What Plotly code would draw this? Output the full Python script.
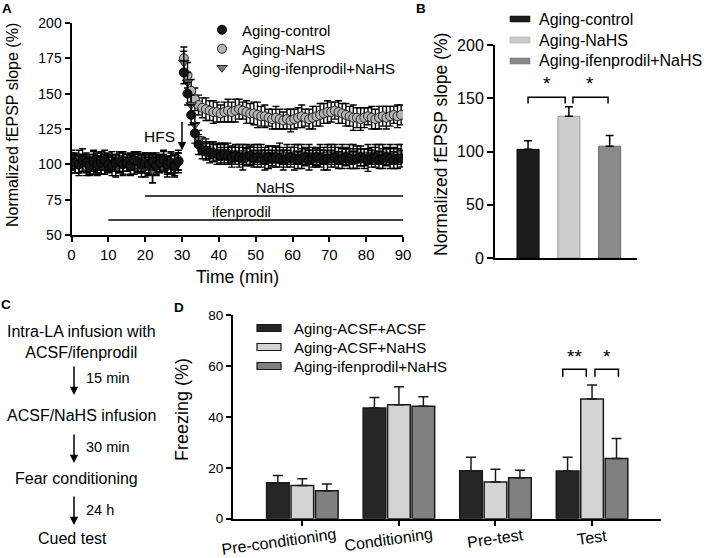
import plotly.graph_objects as go

W, H = 709, 558
FONT = "Liberation Sans, Arial, sans-serif"

# ---------------- Panel A data (normalized fEPSP slope, %) ----------------
time_base = list(range(0, 30))                 # min, baseline
time_post = [30.5 + i for i in range(60)]      # min, after HFS

ctrl_base = [102, 101, 100, 103, 101, 99, 102, 100, 101, 103,
             100, 99, 101, 102, 100, 101, 99, 103, 102, 100,
             101, 100, 102, 99, 101, 103, 100, 101, 99, 102]
ctrl_post = [165, 150, 135, 122, 114, 110, 109, 108, 108, 107,
             106, 107, 106, 105, 106, 105, 104, 105, 106, 104,
             105, 104, 103, 105, 104, 105, 104, 103, 104, 105,
             104, 103, 104, 105, 103, 104, 105, 104, 103, 104,
             104, 105, 103, 104, 105, 104, 103, 104, 105, 104,
             103, 104, 105, 103, 104, 105, 104, 103, 104, 104]
nahs_base = [103, 100, 102, 101, 99, 101, 103, 100, 102, 100,
             101, 102, 99, 100, 102, 101, 100, 102, 101, 99,
             102, 100, 97, 101, 100, 102, 99, 101, 100, 103]
nahs_post = [175, 163, 152, 146, 142, 140, 139, 138, 137, 137,
             136, 137, 138, 137, 138, 139, 138, 137, 136, 136,
             135, 134, 134, 133, 132, 133, 132, 131, 132, 131,
             132, 133, 134, 133, 132, 133, 134, 135, 136, 137,
             137, 138, 137, 136, 135, 134, 133, 133, 132, 133,
             134, 133, 132, 133, 134, 133, 134, 135, 134, 135]
ifen_base = [100, 102, 99, 101, 100, 98, 100, 101, 99, 100,
             102, 100, 98, 101, 99, 100, 102, 100, 99, 101,
             98, 100, 96, 99, 100, 101, 98, 100, 97, 101]
ifen_post = [172, 158, 142, 128, 118, 113, 111, 110, 109, 109,
             108, 109, 108, 107, 108, 107, 108, 107, 106, 107,
             108, 107, 106, 107, 106, 107, 108, 106, 107, 106,
             107, 108, 107, 106, 107, 106, 105, 107, 106, 107,
             108, 107, 106, 107, 106, 107, 108, 107, 106, 105,
             107, 106, 107, 108, 107, 106, 107, 106, 107, 108]

err_ctrl_base = [6, 7, 6, 8, 7, 6, 7, 6, 8, 7,
                 6, 7, 6, 7, 8, 6, 7, 6, 7, 6,
                 7, 8, 6, 7, 6, 7, 6, 7, 8, 6]
err_ctrl_post = [8, 8, 7, 7, 7, 6, 6, 7, 6, 7,
                 6, 7, 6, 7, 6, 7, 8, 6, 7, 6,
                 7, 6, 7, 8, 6, 7, 6, 7, 6, 7,
                 8, 6, 7, 6, 7, 6, 7, 6, 7, 8,
                 6, 7, 6, 7, 6, 7, 6, 7, 6, 7,
                 8, 6, 7, 6, 7, 6, 7, 6, 7, 6]
err_nahs_base = [7, 6, 8, 6, 7, 6, 7, 8, 6, 7,
                 6, 7, 8, 6, 7, 6, 7, 6, 7, 8,
                 6, 7, 10, 7, 6, 7, 6, 8, 6, 7]
err_nahs_post = [8, 9, 8, 8, 7, 7, 8, 7, 8, 7,
                 6, 7, 8, 7, 8, 7, 6, 8, 7, 8,
                 9, 7, 8, 6, 7, 8, 7, 6, 7, 8,
                 7, 7, 8, 6, 7, 8, 7, 8, 7, 8,
                 7, 6, 8, 7, 8, 7, 9, 7, 8, 7,
                 6, 8, 7, 8, 7, 8, 7, 6, 8, 7]
err_ifen_base = [6, 5, 7, 6, 5, 6, 7, 5, 6, 7,
                 6, 5, 6, 7, 6, 5, 6, 7, 5, 6,
                 7, 6, 9, 6, 5, 6, 7, 6, 5, 7]
err_ifen_post = [8, 7, 7, 7, 6, 6, 7, 6, 7, 6,
                 7, 6, 7, 6, 6, 7, 6, 7, 6, 7,
                 6, 7, 6, 6, 7, 6, 7, 6, 7, 6,
                 7, 6, 7, 6, 7, 6, 6, 7, 6, 7,
                 6, 7, 6, 7, 6, 7, 6, 6, 7, 6,
                 7, 6, 7, 6, 7, 6, 7, 6, 7, 6]

a_series = ["Aging-control", "Aging-NaHS", "Aging-ifenprodil+NaHS"]
drug_start = {"NaHS": 20, "ifenprodil": 10}
drug_end = 90
hfs_time = 30

# ---------------- Panel B data ----------------
b_groups = ["Aging-control", "Aging-NaHS", "Aging-ifenprodil+NaHS"]
b_mean = [102, 133, 105]
b_err = [8, 9, 10]
b_sig = [(0, 1, "*"), (1, 2, "*")]

# ---------------- Panel D data (freezing, %) ----------------
d_cats = ["Pre-conditioning", "Conditioning", "Pre-test", "Test"]
d_series = ["Aging-ACSF+ACSF", "Aging-ACSF+NaHS", "Aging-ifenprodil+NaHS"]
d_ctrl = [14.1, 43.5, 18.8, 18.7]
d_ctrl_err = [2.9, 4.1, 5.3, 5.4]
d_nahs = [13.0, 44.8, 14.4, 47.0]
d_nahs_err = [2.7, 7.0, 5.0, 5.5]
d_ifen = [11.0, 44.2, 16.1, 23.6]
d_ifen_err = [2.6, 3.7, 2.9, 7.9]
d_sig = [(3, 0, 1, "**"), (3, 1, 2, "*")]

# ---------------- Panel C text ----------------
c_steps = ["Intra-LA infusion with<br>ACSF/ifenprodil", "ACSF/NaHS infusion",
           "Fear conditioning", "Cued test"]
c_intervals = ["15 min", "30 min", "24 h"]

# ======================================================================
def px(x):
    return x / W


def py(y):
    return 1 - y / H


fig = go.Figure()

# ---- Panel A traces ----
a_time = time_base + time_post
a_styles = {
    "Aging-control": dict(symbol="circle", color="#141414", line="#000000"),
    "Aging-NaHS": dict(symbol="circle", color="#b4b4b4", line="#222222"),
    "Aging-ifenprodil+NaHS": dict(symbol="triangle-down", color="#7a7a7a", line="#222222"),
}
a_values = {
    "Aging-control": (ctrl_base + ctrl_post, err_ctrl_base + err_ctrl_post),
    "Aging-NaHS": (nahs_base + nahs_post, err_nahs_base + err_nahs_post),
    "Aging-ifenprodil+NaHS": (ifen_base + ifen_post, err_ifen_base + err_ifen_post),
}
legend_ids = ["legend", "legend2", "legend3"]
draw_order = ["Aging-NaHS", "Aging-ifenprodil+NaHS", "Aging-control"]
for name in draw_order:
    vals, errs = a_values[name]
    st = a_styles[name]
    fig.add_trace(go.Scatter(
        x=a_time, y=vals, mode="markers", name=name,
        legend=legend_ids[a_series.index(name)],
        marker=dict(symbol=st["symbol"], size=9, color=st["color"],
                    line=dict(color=st["line"], width=1)),
        error_y=dict(type="data", array=errs, color="black", thickness=1.4, width=3.5),
        xaxis="x", yaxis="y", showlegend=True,
    ))

# ---- Panel B bars ----
b_colors = ["#1c1c1c", "#cdcdcd", "#8a8a8a"]
b_lines = ["#000000", "#9a9a9a", "#6a6a6a"]
b_x = list(range(len(b_groups)))
fig.add_trace(go.Bar(
    x=b_x, y=b_mean, width=0.54,
    marker=dict(color=b_colors, line=dict(color=b_lines, width=1)),
    error_y=dict(type="data", array=b_err, arrayminus=[0] * len(b_err),
                 symmetric=False, color="black", thickness=1.5, width=4),
    xaxis="x2", yaxis="y2", showlegend=False,
))

# ---- Panel D bars ----
d_colors = ["#262626", "#d4d4d4", "#808080"]
d_vals = [(d_ctrl, d_ctrl_err), (d_nahs, d_nahs_err), (d_ifen, d_ifen_err)]
d_x = list(range(len(d_cats)))
for k, (vals, errs) in enumerate(d_vals):
    fig.add_trace(go.Bar(
        x=d_x, y=vals, name=d_series[k], offsetgroup=str(k),
        marker=dict(color=d_colors[k], line=dict(color="#1a1a1a", width=1.5)),
        error_y=dict(type="data", array=errs, arrayminus=[0] * len(errs),
                     symmetric=False, color="#1a1a1a", thickness=1.5, width=5),
        xaxis="x3", yaxis="y3", showlegend=False,
    ))

shapes = []
annotations = []


def txt(x, y, text, size, xref="paper", yref="paper", **kw):
    d = dict(x=x, y=y, xref=xref, yref=yref, text=text, showarrow=False,
             xanchor="center", yanchor="middle",
             font=dict(family=FONT, size=size, color="black"))
    d.update(kw)
    annotations.append(d)


# ---- Panel A extras ----
drug_y = {"NaHS": 77.6, "ifenprodil": 60.6}
drug_lab_y = {"NaHS": 83.3, "ifenprodil": 66.5}
drug_lab_x = {"NaHS": 55.4, "ifenprodil": 46.2}
for drug, start in drug_start.items():
    shapes.append(dict(type="line", xref="x", yref="y", x0=start, x1=drug_end,
                       y0=drug_y[drug], y1=drug_y[drug],
                       line=dict(color="black", width=1.5)))
    txt(drug_lab_x[drug], drug_lab_y[drug], drug, 14.5, xref="x", yref="y")
annotations.append(dict(x=hfs_time, y=110, ax=hfs_time, ay=131, xref="x", yref="y",
                        axref="x", ayref="y", text="", showarrow=True,
                        arrowhead=2, arrowsize=1.1, arrowwidth=1.5, arrowcolor="black"))
txt(24, 119.6, "HFS", 15.5, xref="x", yref="y")

# ---- Panel B extras ----
b_top = [m + e for m, e in zip(b_mean, b_err)]
br_y = max(b_top) + 9
for i, j, s in b_sig:
    x0 = b_x[i] + (0.0 if i == 0 else 0.1)
    x1 = b_x[j] - (0.09 if j == 1 else 0.04)
    shapes.append(dict(type="path", xref="x2", yref="y2",
                       path=f"M {x0},{br_y - 6} L {x0},{br_y} L {x1},{br_y} L {x1},{br_y - 6}",
                       line=dict(color="black", width=1.5)))
    txt((x0 + x1) / 2, br_y + 1, s, 19, xref="x2", yref="y2", yanchor="bottom")

# B legend
b_leg_y = [19, 40, 61]
for k, name in enumerate(b_groups):
    shapes.append(dict(type="rect", xref="paper", yref="paper",
                       x0=px(510), x1=px(530), y0=py(b_leg_y[k] + 3), y1=py(b_leg_y[k] - 3),
                       fillcolor=b_colors[k], line=dict(color=b_lines[k], width=0.5)))
    txt(px(537), py(b_leg_y[k]), name, 16, xanchor="left")

# ---- Panel D extras ----
bargap, groupgap = 0.24, 0.075
slot = (1 - bargap) / 3
d_all = [d_ctrl, d_nahs, d_ifen]
d_errs = [d_ctrl_err, d_nahs_err, d_ifen_err]
for g, i, j, s in d_sig:
    top = max(d_all[k][g] + d_errs[k][g] for k in range(3))
    yb = top + 6.2
    ci = g + (i - 1) * slot
    cj = g + (j - 1) * slot
    x0 = ci + (-0.05 if i == 0 else 0.03)
    x1 = cj + (-0.06 if i == 0 else 0.02)
    shapes.append(dict(type="path", xref="x3", yref="y3",
                       path=f"M {x0},{yb - 3} L {x0},{yb} L {x1},{yb} L {x1},{yb - 3}",
                       line=dict(color="black", width=1.5)))
    txt((x0 + x1) / 2, yb + 0.2, s, 19, xref="x3", yref="y3", yanchor="bottom")

d_leg_y = [328, 347, 366]
for k, name in enumerate(d_series):
    shapes.append(dict(type="rect", xref="paper", yref="paper",
                       x0=px(257), x1=px(281), y0=py(d_leg_y[k] + 3.5), y1=py(d_leg_y[k] - 3.5),
                       fillcolor=d_colors[k], line=dict(color="#1a1a1a", width=1.2)))
    txt(px(292), py(d_leg_y[k]), name, 15, xanchor="left")

label_shift = [-23, -10, 0, 0]
label_y = [541, 539, 538, 537]
for i, c in enumerate(d_cats):
    txt(i, py(label_y[i]), c, 16, xref="x3", textangle=-8, xshift=label_shift[i])

# ---- Panel C ----
c_pos = [(81, 342), (81, 415), (76, 478), (72, 538)]
for (x, y), s in zip(c_pos, c_steps):
    txt(px(x), py(y), s, 16)
arrows = [(365, 395, 378), (433, 463, 447), (495, 525, 510)]
for (y0, y1, yl), lab in zip(arrows, c_intervals):
    annotations.append(dict(x=px(74), y=py(y1), ax=0, ay=-(y1 - y0), xref="paper", yref="paper",
                            text="", showarrow=True, arrowhead=2, arrowsize=1.1,
                            arrowwidth=1.5, arrowcolor="black"))
    txt(px(84), py(yl), lab, 14.5, xanchor="left")

# ---- Titles & panel letters ----
txt(px(13), py(125), "Normalized fEPSP slope (%)", 16, textangle=-90)
txt(px(237), py(277), "Time (min)", 17.5)
txt(px(441), py(145), "Normalized fEPSP slope (%)", 17.5, textangle=-90)
txt(px(182), py(410), "Freezing (%)", 18, textangle=-90)
for lab, (x, y) in zip("ABCD", [(7, 8), (421, 9), (6, 304), (179, 307)]):
    txt(px(x), py(y), f"<b>{lab}</b>", 13.5)

axis_common = dict(showline=True, linewidth=2, linecolor="black", ticks="outside",
                   tickwidth=1.8, tickcolor="black", showgrid=False, zeroline=False,
                   automargin=False,
                   tickfont=dict(family=FONT, size=14, color="black"))

leg_common = dict(xanchor="left", yanchor="middle", bgcolor="rgba(0,0,0,0)",
                  font=dict(family=FONT, size=15, color="black"), itemwidth=30,
                  borderwidth=0)
a_leg_y = [30, 49, 68]

fig.update_layout(
    template="none",
    width=W, height=H, margin=dict(l=0, r=0, t=0, b=0, autoexpand=False),
    paper_bgcolor="white", plot_bgcolor="white",
    font=dict(family=FONT, color="black"),
    barmode="group", bargap=bargap, bargroupgap=groupgap,
    showlegend=True,
    legend=dict(x=px(202), y=py(a_leg_y[0]), **leg_common),
    legend2=dict(x=px(202), y=py(a_leg_y[1]), **leg_common),
    legend3=dict(x=px(202), y=py(a_leg_y[2]), **leg_common),
    xaxis=dict(domain=[px(71.5), px(403)], range=[0, 90], anchor="y",
               tickvals=list(range(0, 91, 10)), ticklen=5,
               **{**axis_common, "tickfont": dict(family=FONT, size=15, color="black")}),
    yaxis=dict(domain=[py(235), py(23)], range=[50, 200], anchor="x",
               tickvals=[50, 75, 100, 125, 150, 175, 200], ticklen=5, **axis_common),
    xaxis2=dict(domain=[px(495), px(637)], range=[-0.81, 2.67], anchor="y2",
                showticklabels=False, **{**axis_common, "ticks": ""}),
    yaxis2=dict(domain=[py(258), py(45)], range=[0, 200], anchor="x2",
                tickvals=[0, 50, 100, 150, 200], ticklen=6,
                **{**axis_common, "tickfont": dict(family=FONT, size=16, color="black")}),
    xaxis3=dict(domain=[px(233), px(661)], range=[-0.718, 3.714], anchor="y3",
                tickvals=d_x, showticklabels=False, ticklen=5, **axis_common),
    yaxis3=dict(domain=[py(518.7), py(315)], range=[0, 80], anchor="x3",
                tickvals=[0, 20, 40, 60, 80], ticklen=5,
                **{**axis_common, "tickfont": dict(family=FONT, size=13.5, color="black")}),
    shapes=shapes,
    annotations=annotations,
)

fig.write_html("out.html", config={"displayModeBar": False},
               post_script="document.body.style.margin='0px';document.body.style.overflow='hidden';")
